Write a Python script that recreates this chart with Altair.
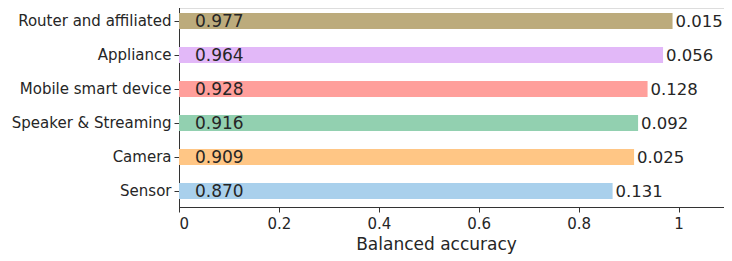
import altair as alt
import pandas as pd

categories = ["Router and affiliated", "Appliance", "Mobile smart device",
              "Speaker & Streaming", "Camera", "Sensor"]
bar_values = [0.988, 0.969, 0.938, 0.919, 0.911, 0.868]
inner_labels = ["0.977", "0.964", "0.928", "0.916", "0.909", "0.870"]
outer_labels = ["0.015", "0.056", "0.128", "0.092", "0.025", "0.131"]
colors = ["#bcab7c", "#e2b8f8", "#ff9f9b", "#92d0b0", "#ffc685", "#a9d0ec"]

df = pd.DataFrame({
    "cat": categories,
    "val": bar_values,
    "inner": inner_labels,
    "outer": outer_labels,
    "zero": [0.0] * len(categories),
})

FONT = "DejaVu Sans"
TXT = "#262626"

y_enc = alt.Y("cat:N", sort=categories, title=None,
              scale=alt.Scale(domain=categories, range=[-4, 200],
                              paddingInner=0, paddingOuter=0),
              axis=alt.Axis(labelFont=FONT, labelFontSize=15, labelColor=TXT,
                            tickSize=5, tickColor="#333333", domainColor="#333333",
                            labelPadding=3, labelLimit=300))
x_scale = alt.Scale(domain=[0, 1.091], nice=False)

bars = alt.Chart(df).mark_bar(size=16).encode(
    x=alt.X("val:Q", scale=x_scale, title="Balanced accuracy",
            axis=alt.Axis(values=[0, 0.2, 0.4, 0.6, 0.8, 1.0], format=".1~f",
                          labelFont=FONT, labelFontSize=15, labelColor=TXT,
                          tickSize=5, tickColor="#333333", domainColor="#333333",
                          labelPadding=4, grid=False,
                          titleFont=FONT, titleFontSize=17, titleFontWeight="normal",
                          titleColor=TXT, titleX=257, titleY=42,
                          titleAlign="center", titleBaseline="alphabetic")),
    y=y_enc,
    color=alt.Color("cat:N", scale=alt.Scale(domain=categories, range=colors), legend=None),
)

inner = alt.Chart(df).mark_text(align="left", baseline="middle", dx=16, dy=1,
                                font=FONT, fontSize=17, color=TXT).encode(
    x=alt.X("zero:Q", scale=x_scale),
    y=alt.Y("cat:N", sort=categories),
    text="inner:N",
)

outer = alt.Chart(df).mark_text(align="left", baseline="middle", dx=3, dy=1,
                                font=FONT, fontSize=16.5, color=TXT).encode(
    x=alt.X("val:Q", scale=x_scale),
    y=alt.Y("cat:N", sort=categories),
    text="outer:N",
)

chart = alt.layer(bars, inner, outer).properties(
    width=545, height=199,
    autosize=alt.AutoSizeParams(type="none"),
    padding={"left": 171, "top": 0, "right": 0, "bottom": 50},
).configure_view(stroke="transparent", strokeWidth=0).configure(background="white")

chart.save("out.html", embed_options={"renderer": "svg", "actions": False})
